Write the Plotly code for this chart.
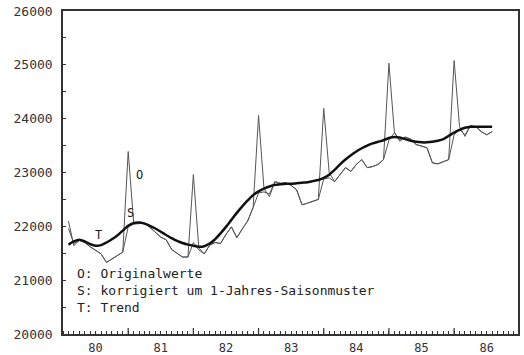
import plotly.graph_objects as go

# Monthly data Jan 1980 .. Jul 1986
years = [1980, 1981, 1982, 1983, 1984, 1985, 1986]
year_labels = ["80", "81", "82", "83", "84", "85", "86"]

original = [
    22100, 21640, 21740, 21700, 21620, 21560, 21490, 21330, 21390, 21450, 21520, 23390,  # 1980
    22080, 22050, 22060, 21980, 21890, 21800, 21750, 21570, 21500, 21430, 21430, 22960,  # 1981
    21600, 21490, 21650, 21700, 21680, 21850, 21990, 21790, 21950, 22100, 22350, 24060,  # 1982
    22700, 22550, 22830, 22800, 22810, 22760, 22680, 22400, 22430, 22460, 22500, 24190,  # 1983
    23000, 22830, 22950, 23090, 23020, 23150, 23240, 23090, 23110, 23150, 23240, 25030,  # 1984
    23750, 23580, 23660, 23620, 23520, 23490, 23460, 23180, 23160, 23200, 23240, 25080,  # 1985
    23850, 23670, 23870, 23850, 23760, 23700, 23760,                                     # 1986
]

adjusted = [
    21960, 21680, 21740, 21700, 21620, 21560, 21490, 21330, 21390, 21450, 21520, 21990,
    22040, 22050, 22060, 21980, 21890, 21800, 21750, 21570, 21500, 21430, 21430, 21700,
    21560, 21490, 21650, 21700, 21680, 21850, 21990, 21790, 21950, 22100, 22350, 22620,
    22640, 22600, 22830, 22800, 22810, 22760, 22680, 22400, 22430, 22460, 22500, 22880,
    22900, 22830, 22950, 23090, 23020, 23150, 23240, 23090, 23110, 23150, 23240, 23600,
    23740, 23600, 23660, 23620, 23520, 23490, 23460, 23180, 23160, 23200, 23240, 23700,
    23800, 23700, 23870, 23850, 23760, 23700, 23760,
]

trend = [
    21660, 21720, 21750, 21720, 21670, 21640, 21650, 21700, 21760, 21830, 21920, 22010,
    22060, 22070, 22050, 22010, 21960, 21900, 21840, 21780, 21730, 21690, 21660, 21640,
    21620, 21630, 21680, 21760, 21870, 21990, 22120, 22250, 22370, 22480, 22580, 22650,
    22700, 22740, 22770, 22780, 22790, 22790, 22800, 22810, 22820, 22840, 22860, 22900,
    22960, 23050, 23150, 23240, 23320, 23390, 23450, 23500, 23540, 23570, 23600, 23640,
    23660, 23650, 23620, 23590, 23570, 23560, 23560, 23570, 23590, 23620, 23680, 23740,
    23790, 23830, 23850, 23850, 23850, 23850, 23850,
]

legend_lines = ["O: Originalwerte", "S: korrigiert um 1-Jahres-Saisonmuster", "T: Trend"]

n = len(original)
xs = [1980 + (i + 1) / 12 for i in range(n)]

thin = "#555555"
fig = go.Figure()
fig.add_trace(go.Scatter(x=xs, y=original, mode="lines", line=dict(color=thin, width=1), name="O"))
fig.add_trace(go.Scatter(x=xs, y=adjusted, mode="lines", line=dict(color=thin, width=1), name="S"))
fig.add_trace(go.Scatter(x=xs, y=trend, mode="lines",
                         line=dict(color="#111111", width=2.5, shape="spline", smoothing=0.8), name="T"))

font_mono = "DejaVu Sans Mono"
axcol = "#333333"

annotations = []
# series letters near the lines
for txt, ax, ay in [("O", 1981.18, 22960), ("S", 1981.03, 22250), ("T", 1980.54, 21830)]:
    annotations.append(dict(x=ax, y=ay, text=txt, showarrow=False, xanchor="center", yanchor="middle",
                            font=dict(family=font_mono, size=12, color="#222222")))
# legend text (one block)
annotations.append(dict(x=1980.18, y=20800, text="<br>".join(legend_lines), showarrow=False,
                        xanchor="left", yanchor="middle", align="left",
                        font=dict(family=font_mono, size=13, color="#222222")))

shapes = []
for yv in years[1:]:
    shapes.append(dict(type="line", xref="x", yref="paper", x0=yv, x1=yv, y0=0, y1=6,
                       ysizemode="pixel", yanchor=0, line=dict(color=axcol, width=1.2)))

fig.update_layout(
    width=524, height=355,
    margin=dict(l=63, r=6, t=11, b=21, autoexpand=False),
    paper_bgcolor="white", plot_bgcolor="white",
    showlegend=False,
    annotations=annotations,
    shapes=shapes,
    xaxis=dict(
        range=[1980, 1986.98], automargin=False,
        tickvals=[y + 0.5 for y in years], ticktext=year_labels,
        ticks="", showgrid=False, zeroline=False,
        showline=True, linecolor=axcol, linewidth=1.5, mirror=True,
        ticklabelstandoff=2,
        tickfont=dict(family=font_mono, size=12, color=axcol),
        minor=dict(tick0=1980, dtick=1 / 12, ticks="inside", ticklen=3, tickcolor=axcol, tickwidth=1, showgrid=False),
    ),
    yaxis=dict(
        range=[20000, 26000], dtick=1000, tick0=20000, tickformat="d", automargin=False,
        ticks="inside", ticklen=3, tickcolor=axcol, tickwidth=1,
        showgrid=False, zeroline=False,
        showline=True, linecolor=axcol, linewidth=1.5, mirror=True,
        ticklabelstandoff=6,
        tickfont=dict(family=font_mono, size=13, color=axcol),
        minor=dict(dtick=500, ticks="inside", ticklen=3, tickcolor=axcol, showgrid=False),
    ),
)

post = ("document.body.style.margin='0';document.body.style.overflow='hidden';"
        "var gd=document.getElementById('{plot_id}');"
        "Plotly.relayout(gd,{width:524,height:355});")

fig.write_html("out.html", post_script=post, config={"responsive": False, "displayModeBar": False})
